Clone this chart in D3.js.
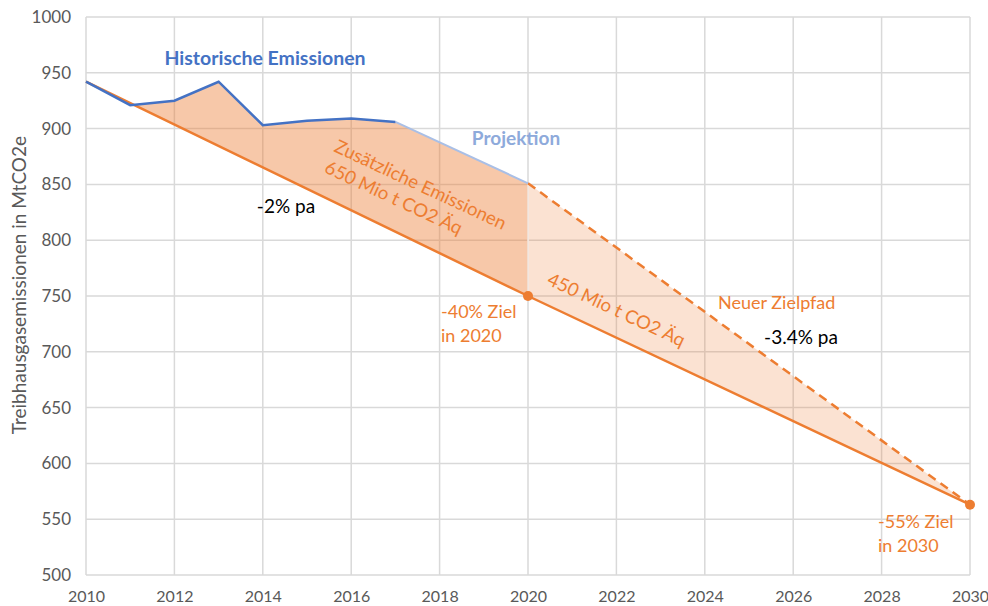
<!DOCTYPE html>
<html>
<head>
<meta charset="utf-8">
<script src="https://cdn.jsdelivr.net/npm/d3@7"></script>
<style>
  body { margin: 0; background: #fff; }
  svg text { font-family: Lato, "Open Sans", sans-serif; }
</style>
</head>
<body>
<div id="chart"></div>
<script>
// data
var historyYears = [2010, 2011, 2012, 2013, 2014, 2015, 2016, 2017];
var historyValues = [942, 921, 925, 942, 903, 907, 909, 906];
var projectionYears = [2017, 2020];
var projectionValues = [906, 851];
var targetYears = [2010, 2020, 2030];
var targetValues = [942, 750, 563];
var newPathYears = [2020, 2030];
var newPathValues = [851, 563];
var xTicks = [2010, 2012, 2014, 2016, 2018, 2020, 2022, 2024, 2026, 2028, 2030];
var yTicks = [500, 550, 600, 650, 700, 750, 800, 850, 900, 950, 1000];

var orange = "#ed7d31";
var margin = {top: 17, right: 18, bottom: 31, left: 86},
    width = 988 - margin.left - margin.right,
    height = 606 - margin.top - margin.bottom;

var svg = d3.select("#chart").append("svg")
    .attr("width", 988)
    .attr("height", 606)
  .append("g")
    .attr("transform", "translate(" + margin.left + "," + margin.top + ")");

var x = d3.scaleLinear().domain([2010, 2030]).range([0, width]);
var y = d3.scaleLinear().domain([500, 1000]).range([height, 0]);

function zip(xs, ys) { return xs.map(function(d, i) { return [d, ys[i]]; }); }
function targetAt(yr) {
  // value of the target line at year yr, from its segments
  for (var i = 0; i < targetYears.length - 1; i++) {
    if (yr >= targetYears[i] && yr <= targetYears[i + 1]) {
      var t = (yr - targetYears[i]) / (targetYears[i + 1] - targetYears[i]);
      return targetValues[i] + t * (targetValues[i + 1] - targetValues[i]);
    }
  }
}

// grid
svg.append("g").attr("class", "xgrid")
  .selectAll("line").data(xTicks).enter().append("line")
  .attr("x1", function(d) { return x(d); }).attr("x2", function(d) { return x(d); })
  .attr("y1", 0).attr("y2", height)
  .attr("stroke", "#d9d9d9").attr("stroke-width", 1.5);
svg.append("g").attr("class", "ygrid")
  .selectAll("line").data(yTicks).enter().append("line")
  .attr("x1", 0).attr("x2", width)
  .attr("y1", function(d) { return y(d); }).attr("y2", function(d) { return y(d); })
  .attr("stroke", "#d9d9d9").attr("stroke-width", 1.5);

// areas
var upper1 = zip(historyYears, historyValues).concat(zip(projectionYears, projectionValues).slice(1));
var area = d3.area()
  .x(function(d) { return x(d[0]); })
  .y0(function(d) { return y(targetAt(d[0])); })
  .y1(function(d) { return y(d[1]); });
svg.append("path").datum(upper1)
  .attr("d", area).attr("fill", orange).attr("fill-opacity", 0.42);
svg.append("path").datum(zip(newPathYears, newPathValues))
  .attr("d", area).attr("fill", orange).attr("fill-opacity", 0.22);
svg.append("line")
  .attr("x1", x(2020)).attr("x2", x(2020))
  .attr("y1", y(newPathValues[0])).attr("y2", y(targetAt(2020)))
  .attr("stroke", "#fff").attr("stroke-opacity", 0.7).attr("stroke-width", 1.5);

var line = d3.line().x(function(d) { return x(d[0]); }).y(function(d) { return y(d[1]); });

svg.append("path").datum(zip(targetYears, targetValues))
  .attr("d", line).attr("fill", "none").attr("stroke", orange).attr("stroke-width", 2.5);
svg.append("path").datum(zip(newPathYears, newPathValues))
  .attr("d", line).attr("fill", "none").attr("stroke", orange).attr("stroke-width", 2.5)
  .attr("stroke-dasharray", "9,6");
svg.append("path").datum(zip(projectionYears, projectionValues))
  .attr("d", line).attr("fill", "none").attr("stroke", "#a9bfe6").attr("stroke-width", 2);
svg.append("path").datum(zip(historyYears, historyValues))
  .attr("d", line).attr("fill", "none").attr("stroke", "#4472c4").attr("stroke-width", 2.5);

svg.selectAll(".dot").data([[2020, 750], [2030, 563]]).enter().append("circle")
  .attr("class", "dot")
  .attr("cx", function(d) { return x(d[0]); }).attr("cy", function(d) { return y(d[1]); })
  .attr("r", 5).attr("fill", orange);

// axes
var xAxis = svg.append("g").attr("transform", "translate(0," + height + ")")
  .call(d3.axisBottom(x).tickValues(xTicks).tickFormat(d3.format("d")).tickSize(0).tickPadding(16));
var yAxis = svg.append("g")
  .call(d3.axisLeft(y).tickValues(yTicks).tickFormat(d3.format("d")).tickSize(0).tickPadding(15));
xAxis.select(".domain").remove();
yAxis.select(".domain").remove();
xAxis.selectAll("text").attr("fill", "#595959").style("font-size", "16px");
yAxis.selectAll("text").attr("fill", "#595959").style("font-size", "17px");

svg.append("text")
  .attr("transform", "translate(" + (19 - margin.left) + "," + (285 - margin.top) + ") rotate(-90)")
  .attr("text-anchor", "middle").attr("dy", "0.35em")
  .attr("fill", "#595959").style("font-size", "19px")
  .text("Treibhausgasemissionen in MtCO2e");

// annotations
function label(txt, px, py, color, size, weight, anchor) {
  return svg.append("text").attr("x", px - margin.left).attr("y", py - margin.top)
    .attr("fill", color).style("font-size", size + "px")
    .style("font-weight", weight || "normal")
    .attr("text-anchor", anchor || "start").text(txt);
}
label("Historische Emissionen", 265, 65, "#4472c4", 19.5, "bold", "middle");
label("Projektion", 516, 145, "#8eaadb", 19, "bold", "middle");
label("-2% pa", 286, 213, "#000", 19, "normal", "middle");
label("-40% Ziel", 441, 318, orange, 18);
label("in 2020", 441, 342, orange, 18);
label("Neuer Zielpfad", 718, 309, orange, 18);
label("-3.4% pa", 801, 344, "#000", 19, "normal", "middle");
label("-55% Ziel", 878, 528, orange, 18);
label("in 2030", 878, 552, orange, 18);

var g1 = svg.append("g").attr("transform", "translate(" + (333 - margin.left) + "," + (151 - margin.top) + ") rotate(25)");
g1.append("text").attr("fill", orange).style("font-size", "18.5px").text("Zusätzliche Emissionen");
g1.append("text").attr("y", 23).attr("fill", orange).style("font-size", "18.5px").text("650 Mio t CO2 Äq");
var g2 = svg.append("g").attr("transform", "translate(" + (546 - margin.left) + "," + (284 - margin.top) + ") rotate(25)");
g2.append("text").attr("fill", orange).style("font-size", "18.5px").text("450 Mio t CO2 Äq");
</script>
</body>
</html>
